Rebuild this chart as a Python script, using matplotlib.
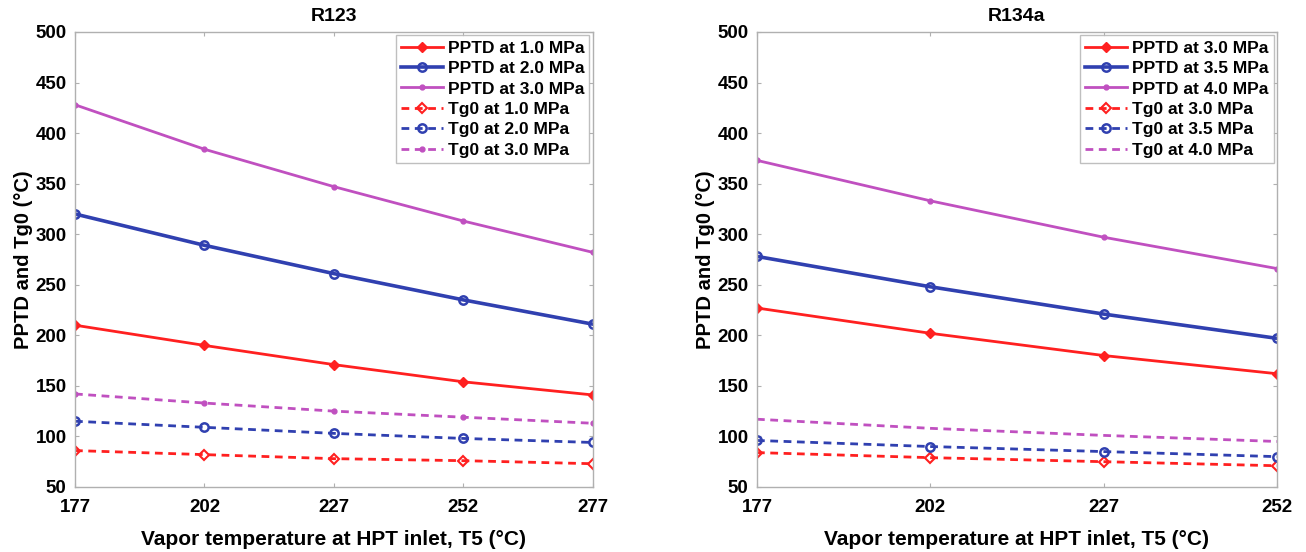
import matplotlib
matplotlib.use("Agg")
import matplotlib.pyplot as plt

plt.rcParams['font.family'] = ['Liberation Sans', 'DejaVu Sans']
plt.rcParams['font.weight'] = 'bold'

# Left panel: R123
x_r123 = [177, 202, 227, 252, 277]
pptd_r123_10 = [210, 190, 171, 154, 141]
pptd_r123_20 = [320, 289, 261, 235, 211]
pptd_r123_30 = [428, 384, 347, 313, 282]
tg0_r123_10 = [86, 82, 78, 76, 73]
tg0_r123_20 = [115, 109, 103, 98, 94]
tg0_r123_30 = [142, 133, 125, 119, 113]
labels_r123 = ["PPTD at 1.0 MPa", "PPTD at 2.0 MPa", "PPTD at 3.0 MPa",
               "Tg0 at 1.0 MPa", "Tg0 at 2.0 MPa", "Tg0 at 3.0 MPa"]

# Right panel: R134a
x_r134a = [177, 202, 227, 252]
pptd_r134a_30 = [227, 202, 180, 162]
pptd_r134a_35 = [278, 248, 221, 197]
pptd_r134a_40 = [373, 333, 297, 266]
tg0_r134a_30 = [84, 79, 75, 71]
tg0_r134a_35 = [96, 90, 85, 80]
tg0_r134a_40 = [117, 108, 101, 95]
labels_r134a = ["PPTD at 3.0 MPa", "PPTD at 3.5 MPa", "PPTD at 4.0 MPa",
                "Tg0 at 3.0 MPa", "Tg0 at 3.5 MPa", "Tg0 at 4.0 MPa"]

yticks = [50, 100, 150, 200, 250, 300, 350, 400, 450, 500]

RED = '#ff2020'
BLUE = '#3040b0'
MAG = '#c050c0'
DASH = (2.8, 2.0)

fig = plt.figure(figsize=(13.06, 5.52), dpi=100)
ax1 = fig.add_axes([0.0574, 0.1178, 0.3966, 0.8243])
ax2 = fig.add_axes([0.5796, 0.1178, 0.3982, 0.8243])


def style(ax, xt, title):
    ax.set_xlim(xt[0], xt[-1])
    ax.set_ylim(50, 500)
    ax.set_xticks(xt)
    ax.set_yticks(yticks)
    ax.tick_params(direction='in', top=True, right=True, length=3,
                   color='#b0b0b0', labelsize=13.5)
    ax.tick_params(axis='x', pad=9)
    ax.tick_params(axis='y', pad=6)
    for lab in ax.get_xticklabels() + ax.get_yticklabels():
        lab.set_fontweight('bold')
    for s in ax.spines.values():
        s.set_color('#b0b0b0')
        s.set_linewidth(1.0)
    ax.set_title(title, fontsize=14, fontweight='bold', pad=8)
    ax.set_xlabel('Vapor temperature at HPT inlet, T5 (°C)', fontsize=15,
                  fontweight='bold', labelpad=10)
    ax.set_ylabel('PPTD and Tg0 (°C)', fontsize=14.5, fontweight='bold', labelpad=2)


# R123
ax1.plot(x_r123, pptd_r123_10, '-', color=RED, lw=2, marker='D', ms=5.5,
         mfc=RED, label=labels_r123[0])
ax1.plot(x_r123, pptd_r123_20, '-', color=BLUE, lw=2.6, marker='o', ms=6,
         mfc='none', mew=1.8, label=labels_r123[1])
ax1.plot(x_r123, pptd_r123_30, '-', color=MAG, lw=2, marker='.', ms=7,
         label=labels_r123[2])
ax1.plot(x_r123, tg0_r123_10, '--', dashes=DASH, color=RED, lw=2, marker='D', ms=5.5,
         mfc='none', mew=1.5, label=labels_r123[3])
ax1.plot(x_r123, tg0_r123_20, '--', dashes=DASH, color=BLUE, lw=2, marker='o', ms=6,
         mfc='none', mew=1.8, label=labels_r123[4])
ax1.plot(x_r123, tg0_r123_30, '--', dashes=DASH, color=MAG, lw=2, marker='.', ms=7,
         label=labels_r123[5])
style(ax1, x_r123, 'R123')

# R134a
ax2.plot(x_r134a, pptd_r134a_30, '-', color=RED, lw=2, marker='D', ms=5.5,
         mfc=RED, label=labels_r134a[0])
ax2.plot(x_r134a, pptd_r134a_35, '-', color=BLUE, lw=2.6, marker='o', ms=6,
         mfc='none', mew=1.8, label=labels_r134a[1])
ax2.plot(x_r134a, pptd_r134a_40, '-', color=MAG, lw=2, marker='.', ms=7,
         label=labels_r134a[2])
ax2.plot(x_r134a, tg0_r134a_30, '--', dashes=DASH, color=RED, lw=2, marker='D', ms=5.5,
         mfc='none', mew=1.5, label=labels_r134a[3])
ax2.plot(x_r134a, tg0_r134a_35, '--', dashes=DASH, color=BLUE, lw=2, marker='o', ms=6,
         mfc='none', mew=1.8, label=labels_r134a[4])
ax2.plot(x_r134a, tg0_r134a_40, '--', dashes=DASH, color=MAG, lw=2,
         label=labels_r134a[5])
style(ax2, x_r134a, 'R134a')

for ax in (ax1, ax2):
    leg = ax.legend(loc='upper right', prop={'weight': 'bold', 'size': 12.5},
                    frameon=True, fancybox=False, handlelength=2.4,
                    handletextpad=0.3, labelspacing=0.3, borderpad=0.3,
                    borderaxespad=0.2)
    leg.get_frame().set_edgecolor('#b0b0b0')
    leg.get_frame().set_linewidth(1.0)

fig.savefig('out.png', dpi=100)
